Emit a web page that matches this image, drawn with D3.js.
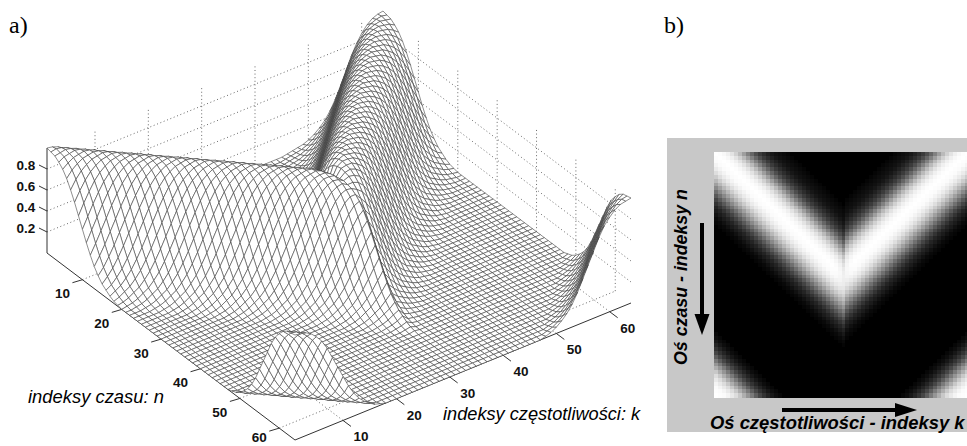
<!DOCTYPE html>
<html>
<head>
<meta charset="utf-8">
<script src="https://d3js.org/d3.v7.min.js"></script>
<style>
html, body { margin: 0; padding: 0; background: #fff; }
svg { display: block; }
</style>
</head>
<body>
<script>
// values (n and k run from 1 to 64)
const timeIdx = [1,2,3,4,5,6,7,8,9,10,11,12,13,14,15,16,17,18,19,20,21,22,23,24,25,26,27,28,29,30,31,32,33,34,35,36,37,38,39,40,41,42,43,44,45,46,47,48,49,50,51,52,53,54,55,56,57,58,59,60,61,62,63,64];
const freqIdx = timeIdx;

// where the two arms of the V sit in each row; they meet at column tipK
const ridgeLeft = [1,2,3,4,5,6,7,8,9,10,11,12,13,14,15,16,17,18,19,20,21,22,23,24,25,26,27,28,29,30,31,32,33,34,35,36,37,38,39,40,41,42,43,44,45,46,47,48,49,50,51,52,53,54,55,56,57,58,59,60,61,62,63,64];
const ridgeRight = [64,63,62,61,60,59,58,57,56,55,54,53,52,51,50,49,48,47,46,45,44,43,42,41,40,39,38,37,36,35,34,33,32,31,30,29,28,27,26,25,24,23,22,21,20,19,18,17,16,15,14,13,12,11,10,9,8,7,6,5,4,3,2,1];
const tipK = 33;
// columns next to the tip are rounded off a little, by distance from tipK
const tipSoften = [0.93,0.97,0.99];
// the corner bumps at the end of the time axis, rows 47..64
const wrapRows = [47,48,49,50,51,52,53,54,55,56,57,58,59,60,61,62,63,64];
const wrapLeft = [-16,-15,-14,-13,-12,-11,-10,-9,-8,-7,-6,-5,-4,-3,-2,-1,0,1];
const wrapRight = [81,80,79,78,77,76,75,74,73,72,71,70,69,68,67,66,65,64];
// cross sections, by distance in bins from the ridge centre
const lobeInner = [1,0.99,0.97,0.93,0.87,0.79,0.69,0.57,0.45,0.34,0.25,0.18,0.13,0.09,0.06,0.04,0.03,0.02,0.01];
const lobeOuter = [1,0.99,0.98,0.95,0.91,0.85,0.77,0.68,0.58,0.48,0.38,0.29,0.21,0.15,0.1,0.07,0.04,0.02,0.01];
const lobeWrap = [1,0.99,0.98,0.95,0.9,0.84,0.75,0.64,0.53,0.42,0.31,0.22,0.15,0.1,0.06,0.03,0.015];

const nTicks = [10,20,30,40,50,60];
const kTicks = [10,20,30,40,50,60];
const zTicks = [0.2,0.4,0.6,0.8];

const at = (arr, d) => { d = Math.abs(d); return d < arr.length ? arr[d] : 0; };

function height(n, k) {
  let z;
  if (k <= tipK) {
    const d = k - ridgeLeft[n-1];
    z = at(d > 0 ? lobeInner : lobeOuter, d);
  } else {
    const d = k - ridgeRight[n-1];
    z = at(d < 0 ? lobeInner : lobeOuter, d);
  }
  const s = Math.abs(k - tipK);
  if (s < tipSoften.length) z *= tipSoften[s];
  const w = wrapRows.indexOf(n);
  if (w >= 0) z = Math.max(z, at(lobeWrap, k - wrapLeft[w]), at(lobeWrap, k - wrapRight[w]));
  return z;
}

const svg = d3.select("body").append("svg").attr("width", 967).attr("height", 446);

// oblique projection of panel a
const xN = d3.scaleLinear().domain([1,64]).range([0,248]);
const yN = d3.scaleLinear().domain([1,64]).range([0,187]);
const xK = d3.scaleLinear().domain([1,64]).range([0,336]);
const yK = d3.scaleLinear().domain([1,64]).range([0,-137]);
const yZ = d3.scaleLinear().domain([0,1]).range([0,-105]);
const px = (n,k) => 47 + xN(n) + xK(k);
const py = (n,k,z) => 253 + yN(n) + yK(k) + yZ(z);

const a = svg.append("g");
const zTop = 0.97;

// dotted grid on the walls and the floor
const grid = [];
kTicks.forEach(k => grid.push([[1,k,0],[1,k,zTop]]));
nTicks.forEach(n => grid.push([[n,64,0],[n,64,zTop]]));
zTicks.forEach(z => { grid.push([[1,1,z],[1,64,z]]); grid.push([[1,64,z],[64,64,z]]); });
kTicks.forEach(k => grid.push([[1,k,0],[64,k,0]]));
nTicks.forEach(n => grid.push([[n,1,0],[n,64,0]]));

a.append("g").selectAll("line").data(grid).join("line")
  .attr("x1", d => px(d[0][0],d[0][1])).attr("y1", d => py(d[0][0],d[0][1],d[0][2]))
  .attr("x2", d => px(d[1][0],d[1][1])).attr("y2", d => py(d[1][0],d[1][1],d[1][2]))
  .attr("stroke", "#444").attr("stroke-width", 0.8).attr("stroke-dasharray", "1 2.6");

// solid axes
const axes = [[[1,1,0],[1,1,1]],[[1,1,0],[64,1,0]],[[64,1,0],[64,64,0]]];
a.append("g").selectAll("line").data(axes).join("line")
  .attr("x1", d => px(d[0][0],d[0][1])).attr("y1", d => py(d[0][0],d[0][1],d[0][2]))
  .attr("x2", d => px(d[1][0],d[1][1])).attr("y2", d => py(d[1][0],d[1][1],d[1][2]))
  .attr("stroke", "#333").attr("stroke-width", 1);

// ticks
const tickG = a.append("g").attr("stroke", "#333").attr("stroke-width", 1);
tickG.selectAll(".tn").data(nTicks).join("line").attr("class","tn")
  .attr("x1", n => px(n,1)).attr("y1", n => py(n,1,0))
  .attr("x2", n => px(n,1) - 10).attr("y2", n => py(n,1,0) + 3);
tickG.selectAll(".tk").data(kTicks).join("line").attr("class","tk")
  .attr("x1", k => px(64,k)).attr("y1", k => py(64,k,0))
  .attr("x2", k => px(64,k) + 8).attr("y2", k => py(64,k,0) + 6);
tickG.selectAll(".tz").data(zTicks).join("line").attr("class","tz")
  .attr("x1", z => px(1,1)).attr("y1", z => py(1,1,z))
  .attr("x2", z => px(1,1) - 8).attr("y2", z => py(1,1,z) - 4);

// mesh, back to front, white faces hide what is behind
const quads = [];
timeIdx.slice(0,-1).forEach(n => freqIdx.slice(0,-1).forEach(k => quads.push({n, k})));
quads.sort((p,q) => (p.n - p.k) - (q.n - q.k));
const meshLine = d3.line();
a.append("g").selectAll("path").data(quads).join("path")
  .attr("d", d => meshLine([[d.n,d.k],[d.n+1,d.k],[d.n+1,d.k+1],[d.n,d.k+1]].map(c => [px(c[0],c[1]), py(c[0],c[1],height(c[0],c[1]))])) + "Z")
  .attr("fill", "#fff").attr("stroke", "#3c3c3c").attr("stroke-width", 0.58);

// tick labels
const tickFont = "'Liberation Sans', Arial, sans-serif";
const labels = a.append("g").attr("font-family", tickFont).attr("font-weight", "bold").attr("font-size", 13.5).attr("fill", "#111").attr("text-anchor", "middle");
labels.selectAll(".ln").data(nTicks).join("text").attr("class","ln")
  .attr("x", n => px(n,1) - 20).attr("y", n => Math.min(py(n,1,0) + 18.5, 442)).text(d => d);
labels.selectAll(".lk").data(kTicks).join("text").attr("class","lk")
  .attr("x", k => px(64,k) + 18).attr("y", k => py(64,k,0) + 21).text(d => d);
labels.selectAll(".lz").data(zTicks).join("text").attr("class","lz")
  .attr("x", 26).attr("y", z => py(1,1,z) + 1).text(d => d);

a.append("text").attr("x", 28).attr("y", 403).attr("font-family", tickFont).attr("font-style","italic").attr("font-size", 18.4).text("indeksy czasu: n");
a.append("text").attr("x", 443).attr("y", 420).attr("font-family", tickFont).attr("font-style","italic").attr("font-size", 18.2).text("indeksy częstotliwości: k");

svg.append("text").attr("x", 9).attr("y", 33).attr("font-family","'Liberation Serif', serif").attr("font-size", 24).text("a)");
svg.append("text").attr("x", 664).attr("y", 33).attr("font-family","'Liberation Serif', serif").attr("font-size", 24).text("b)");

// panel b
svg.append("rect").attr("x", 667).attr("y", 138).attr("width", 300).attr("height", 294).attr("fill", "#c8c8c8");
const xCell = d3.scaleBand().domain(freqIdx).range([714,969]);
const yCell = d3.scaleBand().domain(timeIdx).range([152,397]);
// lifted grey map, the picture keeps the low values visible
const grey = d3.scalePow().exponent(0.85).domain([0,1]).range(["#000","#fff"]);
const cells = [];
timeIdx.forEach(n => freqIdx.forEach(k => cells.push({n, k, z: height(n,k)})));
svg.append("g").attr("shape-rendering","crispEdges").selectAll("rect").data(cells).join("rect")
  .attr("x", d => xCell(d.k)).attr("y", d => yCell(d.n))
  .attr("width", xCell.bandwidth() + 0.5).attr("height", yCell.bandwidth() + 0.5)
  .attr("fill", d => grey(d.z));

const b = svg.append("g").attr("fill", "#000");
b.append("rect").attr("x", 700).attr("y", 223).attr("width", 4).attr("height", 92);
b.append("path").attr("d", d3.line()([[694.5,314],[709.5,314],[702,335]]) + "Z");
b.append("rect").attr("x", 782).attr("y", 408).attr("width", 114).attr("height", 4);
b.append("path").attr("d", d3.line()([[895,403],[895,417],[917,410]]) + "Z");
b.append("text").attr("x", 710).attr("y", 429).attr("font-family", tickFont).attr("font-style","italic").attr("font-weight","bold").attr("font-size", 18.4).text("Oś częstotliwości - indeksy k");
b.append("text").attr("transform","translate(687,365) rotate(-90)").attr("font-family", tickFont).attr("font-style","italic").attr("font-weight","bold").attr("font-size", 17.8).text("Oś czasu - indeksy n");
</script>
</body>
</html>
